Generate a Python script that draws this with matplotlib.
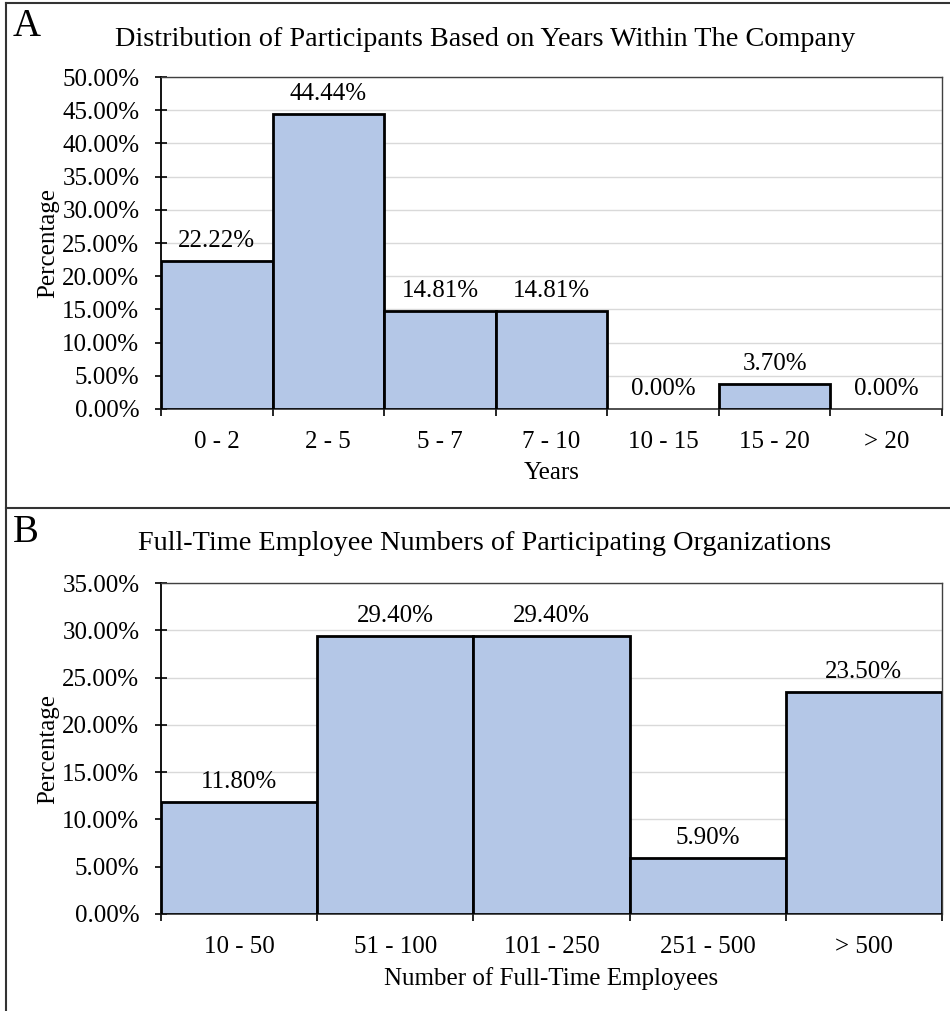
import matplotlib.pyplot as plt
import matplotlib.ticker as mticker
from matplotlib.lines import Line2D

plt.rcParams['font.family'] = ['Liberation Serif', 'DejaVu Serif']

# Panel A data
years_cats = ['0 - 2', '2 - 5', '5 - 7', '7 - 10', '10 - 15', '15 - 20', '> 20']
years_pct = [22.22, 44.44, 14.81, 14.81, 0.00, 3.70, 0.00]

# Panel B data
emp_cats = ['10 - 50', '51 - 100', '101 - 250', '251 - 500', '> 500']
emp_pct = [11.80, 29.40, 29.40, 5.90, 23.50]

bar_color = '#B4C7E7'
fs = 18

fig = plt.figure(figsize=(9.5, 10.11), dpi=100)
ax_a = fig.add_axes([161/950, 1 - 409/1011, (942 - 161)/950, (409 - 77)/1011])
ax_b = fig.add_axes([161/950, 1 - 914/1011, (942 - 161)/950, (914 - 583)/1011])


def draw_panel(ax, cats, vals, ymax, xlabel):
    x = list(range(len(cats)))
    # zero-height bars get no outline, like the original
    lws = [2.0 if v > 0 else 0 for v in vals]
    ax.bar(x, vals, width=1.0, color=bar_color, edgecolor='black', linewidth=lws, zorder=3)
    for xi, v in zip(x, vals):
        ax.annotate(f'{v:.2f}%', (xi, v), xytext=(0, 14.5), textcoords='offset points',
                    ha='center', va='center', fontsize=fs)
    ax.set_xlim(-0.5, len(cats) - 0.5)
    ax.set_ylim(0, ymax)
    ax.yaxis.set_major_locator(mticker.MultipleLocator(5))
    ax.yaxis.set_major_formatter(mticker.PercentFormatter(decimals=2))
    ax.set_xticks(x)
    ax.set_xticklabels(cats)
    ax.set_xticks([i - 0.5 for i in range(len(cats) + 1)], minor=True)
    ax.tick_params(axis='x', which='major', length=0, pad=16, labelsize=fs)
    ax.tick_params(axis='x', which='minor', length=5, width=1.2, direction='out')
    ax.tick_params(axis='y', which='major', length=9, width=1.2, direction='inout', pad=11, labelsize=fs)
    ax.grid(axis='y', color='#d9d9d9', linewidth=1, zorder=0)
    ax.set_axisbelow(True)
    for side in ['top', 'right']:
        ax.spines[side].set_color('#404040')
        ax.spines[side].set_linewidth(1.0)
    ax.spines['left'].set_linewidth(1.3)
    ax.spines['bottom'].set_color('#202020')
    ax.spines['bottom'].set_linewidth(1.1)
    ax.set_xlabel(xlabel, fontsize=fs, labelpad=6)
    ax.set_ylabel('Percentage', fontsize=fs, labelpad=2)


draw_panel(ax_a, years_cats, years_pct, 50, 'Years')
draw_panel(ax_b, emp_cats, emp_pct, 35, 'Number of Full-Time Employees')

# titles and panel letters
fig.text(485/950, 1 - 40/1011, 'Distribution of Participants Based on Years Within The Company',
         ha='center', va='center', fontsize=20.3)
fig.text(485/950, 1 - 543/1011, 'Full-Time Employee Numbers of Participating Organizations',
         ha='center', va='center', fontsize=20.3)
fig.text(13/950, 1 - 27/1011, 'A', ha='left', va='center', fontsize=28)
fig.text(13/950, 1 - 532/1011, 'B', ha='left', va='center', fontsize=28)

# outer frame lines
frame_kw = dict(color='#333333', linewidth=1.5, transform=fig.transFigure)
fig.add_artist(Line2D([6/950, 6/950], [0, 1 - 3/1011], **frame_kw))
fig.add_artist(Line2D([6/950, 1], [1 - 3/1011, 1 - 3/1011], **frame_kw))
fig.add_artist(Line2D([6/950, 1], [1 - 508/1011, 1 - 508/1011], **frame_kw))

fig.savefig('out.png', dpi=100)
